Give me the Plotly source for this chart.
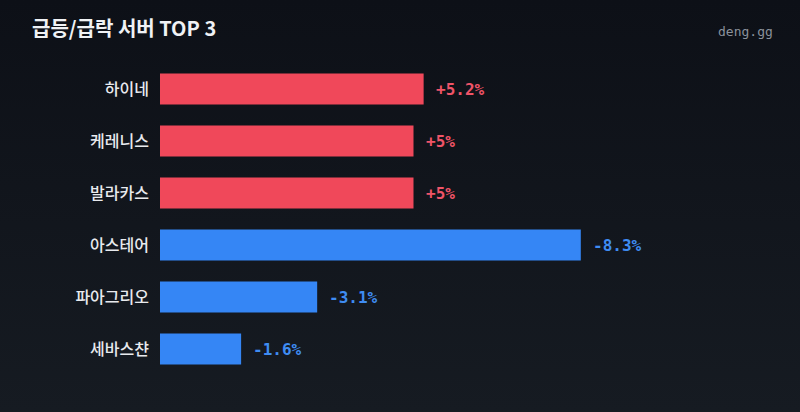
import plotly.graph_objects as go

servers = ["하이네", "케레니스", "발라카스", "아스테어", "파아그리오", "세바스챤"]
changes = [5.2, 5.0, 5.0, -8.3, -3.1, -1.6]
labels = ["+5.2%", "+5%", "+5%", "-8.3%", "-3.1%", "-1.6%"]

RED = "#f0485a"
BLUE = "#3586f5"
LBL_RED = "#f05468"
LBL_BLUE = "#3f8cf2"
colors = [RED if v > 0 else BLUE for v in changes]
lcolors = [LBL_RED if v > 0 else LBL_BLUE for v in changes]
mags = [abs(v) for v in changes]

fig = go.Figure()
fig.add_trace(go.Bar(
    y=servers, x=mags, orientation="h",
    marker=dict(color=colors, line=dict(width=0)),
    width=0.6, hoverinfo="skip",
))

for s, m, lab, c in zip(servers, mags, labels, lcolors):
    fig.add_annotation(x=m, y=s, text=lab, showarrow=False,
                       xanchor="left", xshift=10, yshift=0,
                       font=dict(family="DejaVu Sans Mono", size=16, color=c, weight=600))

svg = ("data:image/svg+xml;utf8,<svg xmlns='http://www.w3.org/2000/svg' width='800' height='412' "
       "preserveAspectRatio='none'><defs><linearGradient id='g' x1='0' y1='0' x2='0' y2='1'>"
       "<stop offset='0' stop-color='%230d1017'/><stop offset='1' stop-color='%23161b22'/>"
       "</linearGradient></defs><rect width='800' height='412' fill='url(%23g)'/></svg>")
fig.add_layout_image(source=svg, xref="paper", yref="paper", x=-160/600, y=1+63/312,
                     sizex=800/600, sizey=412/312, xanchor="left", yanchor="top",
                     sizing="stretch", layer="below")

fig.add_annotation(text="<b>급등/급락 서버 TOP 3</b>", xref="paper", yref="paper",
                   x=-130/600, y=1+35/312, xanchor="left", yanchor="middle", showarrow=False,
                   font=dict(family="Noto Sans CJK KR", size=20, color="#f0f2f5"))
fig.add_annotation(text="deng.gg", xref="paper", yref="paper",
                   x=1+15/600, y=1+31/312, xanchor="right", yanchor="middle", showarrow=False,
                   font=dict(family="DejaVu Sans Mono", size=13, color="#8b929c"))

fig.update_layout(
    width=800, height=412,
    margin=dict(l=160, r=40, t=63, b=37),
    paper_bgcolor="#11151c", plot_bgcolor="rgba(0,0,0,0)",
    showlegend=False, bargap=0.4,
    xaxis=dict(range=[0, 600/50.7], visible=False, fixedrange=True),
    yaxis=dict(autorange="reversed", showgrid=False, zeroline=False, showline=False,
               ticks="", ticklabelstandoff=10,
               tickfont=dict(family="Noto Sans CJK KR", size=16, color="#e8eaee", weight=500)),
)

fig.write_html("out.html")
